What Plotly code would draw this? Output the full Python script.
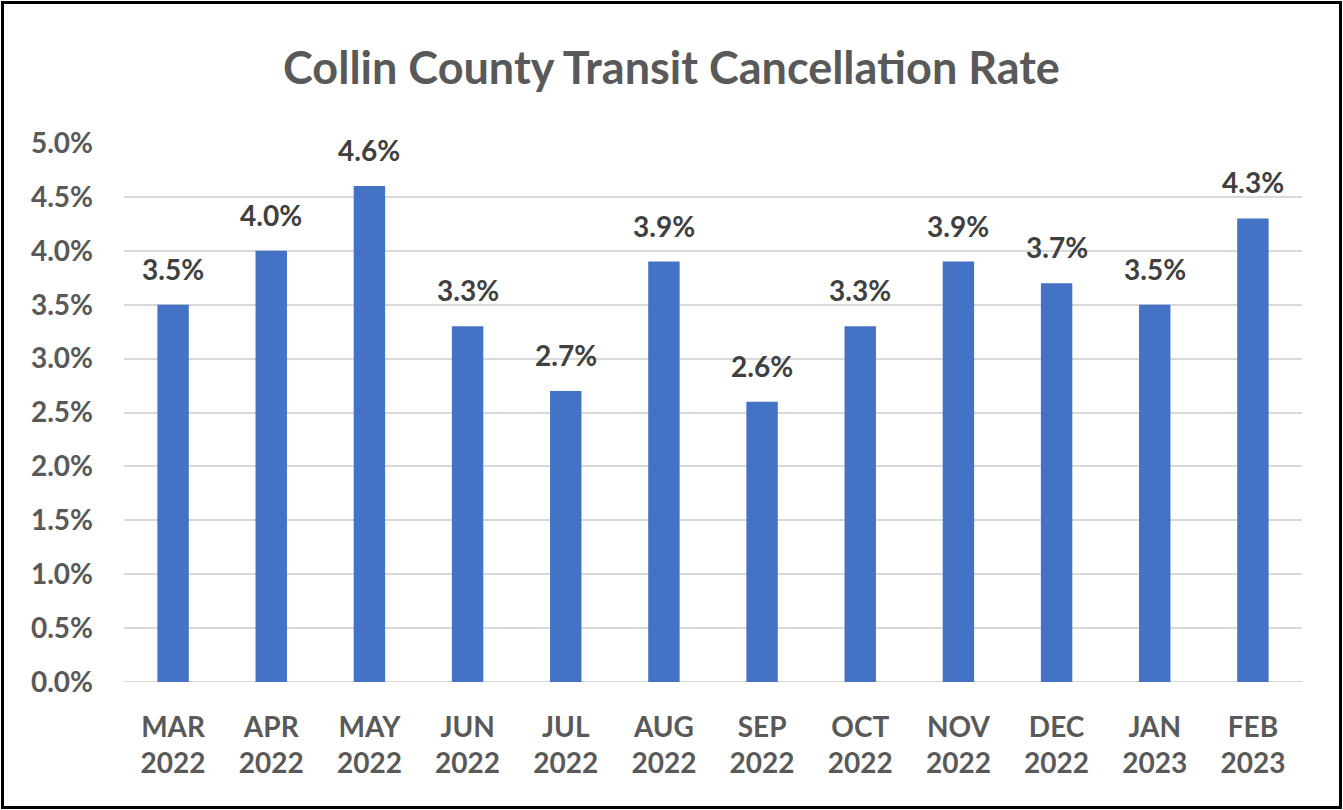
import plotly.graph_objects as go

months = ["MAR", "APR", "MAY", "JUN", "JUL", "AUG", "SEP", "OCT", "NOV", "DEC", "JAN", "FEB"]
years = ["2022", "2022", "2022", "2022", "2022", "2022", "2022", "2022", "2022", "2022", "2023", "2023"]
rates = [0.035, 0.040, 0.046, 0.033, 0.027, 0.039, 0.026, 0.033, 0.039, 0.037, 0.035, 0.043]
y_ticks = [i * 0.005 for i in range(11)]

categories = [f"{m}<br>{y}" for m, y in zip(months, years)]
W, H = 1343, 810
L, R, T, B = 124, 41, 143, 128

fig = go.Figure(go.Bar(
    x=categories, y=rates,
    marker=dict(color="#4472C4", line=dict(width=0)),
    hoverinfo="x+y",
))

for c, v in zip(categories, rates):
    fig.add_annotation(x=c, y=v, text=f"<b>{v*100:.1f}%</b>", showarrow=False,
                       yanchor="bottom", yshift=17,
                       font=dict(family="Lato", size=28, color="#404040"))

pw, ph = W - L - R, H - T - B
def px(x):
    return (x - L) / pw
def py(y):
    return (H - B - y) / ph

fig.update_layout(
    width=W, height=H,
    margin=dict(l=L, r=R, t=T, b=B),
    paper_bgcolor="white", plot_bgcolor="white",
    bargap=0.68,
    showlegend=False,
    title=dict(text="<b>Collin County Transit Cancellation Rate</b>", x=0.5, xanchor="center",
               y=1 - 68 / H, yanchor="middle",
               font=dict(family="Lato", size=45, color="#595959")),
    xaxis=dict(tickfont=dict(family="Lato", size=28, color="#595959", weight="bold"),
               showgrid=False, showline=False, ticks="", ticklabelstandoff=26),
    yaxis=dict(range=[0, 0.05], tickvals=y_ticks, tickformat=".1%",
               tickfont=dict(family="Lato", size=28, color="#595959", weight="bold"),
               showgrid=True, gridcolor="#D9D9D9", gridwidth=2, zeroline=False,
               showline=False, ticks="", ticklabelstandoff=30),
    shapes=[dict(type="line", xref="paper", yref="y", x0=0, x1=1, y0=0, y1=0,
                 line=dict(color="#D9D9D9", width=2), layer="below"),
            dict(type="rect", xref="paper", yref="paper",
                 x0=px(2.5), x1=px(1340.5), y0=py(2.5), y1=py(807.5),
                 line=dict(color="black", width=3), fillcolor="rgba(0,0,0,0)")],
    font=dict(family="Lato"),
)

fig.write_html("out.html", config={"displayModeBar": False},
               post_script="document.body.style.margin='0';document.body.style.overflow='hidden';")
